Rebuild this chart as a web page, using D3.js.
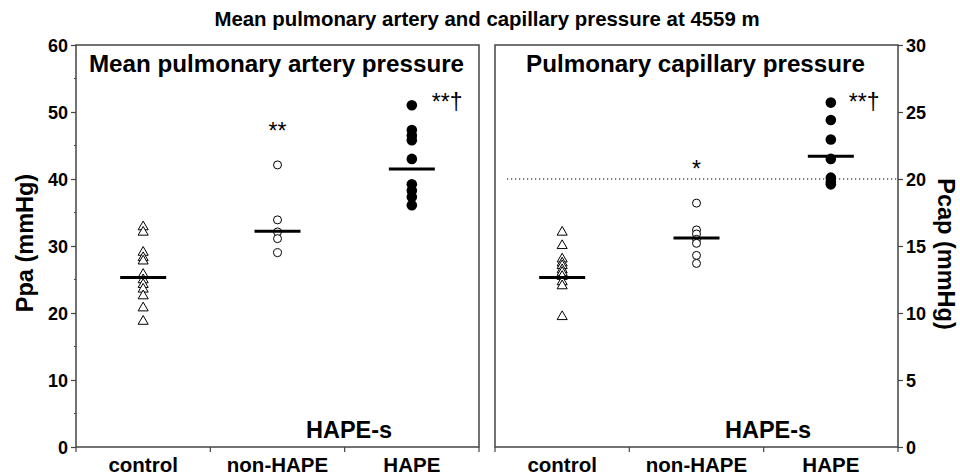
<!DOCTYPE html>
<html>
<head>
<meta charset="utf-8">
<script src="https://cdn.jsdelivr.net/npm/d3@7"></script>
<style>
  body { margin: 0; background: #fff; }
  svg text { font-family: "Liberation Sans", Arial, sans-serif; fill: #000; }
</style>
</head>
<body>
<div id="chart"></div>
<script>
// groups along the x axis
const groups = ["control", "non-HAPE", "HAPE"];

// mean pulmonary artery pressure (mmHg)
const ppaControl = [33, 32.2, 29.2, 28.4, 27.9, 25.9, 25.1, 24.4, 23.7, 22.7, 20.9, 18.9];
const ppaNonHape = [42.1, 33.9, 32.1, 31.1, 29.0];
const ppaHape = [51.0, 47.3, 46.5, 45.8, 43.0, 39.2, 38.3, 37.3, 36.1];
const ppaMeans = [25.3, 32.2, 41.5];
const ppaTicks = [0, 10, 20, 30, 40, 50, 60];

// pulmonary capillary pressure (mmHg)
const pcapControl = [16.1, 15.1, 14.1, 13.8, 13.6, 13.3, 13.1, 12.8, 12.4, 12.1, 9.8];
const pcapNonHape = [18.2, 16.2, 15.9, 15.5, 15.2, 14.3, 13.7];
const pcapHape = [25.7, 24.4, 22.95, 21.5, 20.1, 19.8, 19.6];
const pcapMeans = [12.65, 15.6, 21.7];
const pcapTicks = [0, 5, 10, 15, 20, 25, 30];
const pcapThreshold = 20;

const width = 960, height = 475;
const plotTop = 45, plotBottom = 447;
const axisColor = "#444";

const svg = d3.select("#chart").append("svg")
    .attr("width", width)
    .attr("height", height);

svg.append("text")
    .attr("x", 487)
    .attr("y", 26)
    .attr("text-anchor", "middle")
    .style("font-size", "20.4px")
    .style("font-weight", "bold")
    .text("Mean pulmonary artery and capillary pressure at 4559 m");

function drawPanel(opts) {
    let x = d3.scaleBand().domain(groups).range([opts.left, opts.right]);
    let y = d3.scaleLinear().domain([0, opts.max]).range([plotBottom, plotTop]);
    let g = svg.append("g");

    // frame
    g.append("rect")
        .attr("x", opts.left)
        .attr("y", plotTop)
        .attr("width", opts.right - opts.left)
        .attr("height", plotBottom - plotTop)
        .style("fill", "none")
        .style("stroke", axisColor)
        .style("stroke-width", 1.5);

    // x ticks at band edges
    let edges = groups.map(d => x(d)).concat([opts.right]);
    g.selectAll(".xt").data(edges).enter().append("line")
        .attr("x1", d => d).attr("x2", d => d)
        .attr("y1", plotBottom).attr("y2", plotBottom + 5)
        .style("stroke", axisColor).style("stroke-width", 1.2);

    g.selectAll(".xl").data(groups).enter().append("text")
        .attr("x", d => x(d) + x.bandwidth() / 2)
        .attr("y", 472)
        .attr("text-anchor", "middle")
        .style("font-size", "20.5px")
        .style("font-weight", "bold")
        .text(d => d);

    // y axis
    let ax = opts.side === "left"
        ? d3.axisLeft(y).tickValues(opts.ticks).tickSize(5).tickSizeOuter(0)
        : d3.axisRight(y).tickValues(opts.ticks).tickSize(5).tickSizeOuter(0);
    let axG = g.append("g")
        .attr("transform", "translate(" + (opts.side === "left" ? opts.left : opts.right) + ",0)")
        .call(ax);
    axG.select(".domain").remove();
    axG.selectAll("line").style("stroke", axisColor).style("stroke-width", 1.2);
    axG.selectAll("text")
        .style("font-size", "18px")
        .style("font-weight", "bold")
        .attr("dy", "0.36em");
    if (opts.minor) {
        let minor = d3.range(0, opts.ticks.length - 1).map(i => (opts.ticks[i] + opts.ticks[i + 1]) / 2);
        g.selectAll(".mt").data(minor).enter().append("line")
            .attr("x1", opts.left - 2).attr("x2", opts.left)
            .attr("y1", d => y(d)).attr("y2", d => y(d))
            .style("stroke", axisColor).style("stroke-width", 1.2);
    }

    // axis title
    let tx = opts.side === "left" ? 25 : 946;
    let ty = opts.side === "left" ? 243 : 254;
    g.append("text")
        .attr("transform", "translate(" + tx + "," + ty + ") rotate(" + (opts.side === "left" ? -90 : 90) + ")")
        .attr("text-anchor", "middle")
        .attr("dy", "0.35em")
        .style("font-size", "23.5px")
        .style("font-weight", "bold")
        .text(opts.axisTitle);

    // panel title
    g.append("text")
        .attr("x", (opts.left + opts.right) / 2 - 1)
        .attr("y", 72)
        .attr("text-anchor", "middle")
        .style("font-size", "24.2px")
        .style("font-weight", "bold")
        .text(opts.title);

    g.append("text")
        .attr("x", opts.left + 230)
        .attr("y", 438)
        .style("font-size", "23.5px")
        .style("font-weight", "bold")
        .text("HAPE-s");

    // threshold line
    if (opts.threshold !== undefined) {
        g.append("line")
            .attr("x1", opts.left + 12).attr("x2", opts.right)
            .attr("y1", y(opts.threshold)).attr("y2", y(opts.threshold))
            .style("stroke", "#000")
            .style("stroke-width", 1.2)
            .style("stroke-dasharray", "1.2,2.8");
    }

    let cx = d => x(d) + x.bandwidth() / 2;

    // control: open triangles
    let tri = d3.symbol().type(d3.symbolTriangle).size(44);
    g.selectAll(".tri").data(opts.data[0]).enter().append("path")
        .attr("d", tri)
        .attr("transform", d => "translate(" + cx(groups[0]) + "," + (y(d) + 1) + ")")
        .style("fill", "#fff")
        .style("stroke", "#000")
        .style("stroke-width", 1);

    // non-HAPE: open circles
    g.selectAll(".oc").data(opts.data[1]).enter().append("circle")
        .attr("cx", cx(groups[1]))
        .attr("cy", d => y(d))
        .attr("r", 4)
        .style("fill", "#fff")
        .style("stroke", "#000")
        .style("stroke-width", 1);

    // HAPE: filled circles
    g.selectAll(".fc").data(opts.data[2]).enter().append("circle")
        .attr("cx", cx(groups[2]))
        .attr("cy", d => y(d))
        .attr("r", 5.3)
        .style("fill", "#000");

    // mean bars
    g.selectAll(".mean").data(opts.means).enter().append("line")
        .attr("x1", (d, i) => cx(groups[i]) - 23)
        .attr("x2", (d, i) => cx(groups[i]) + 23)
        .attr("y1", d => y(d)).attr("y2", d => y(d))
        .style("stroke", "#000")
        .style("stroke-width", 3);

    // significance marks
    g.selectAll(".sig").data(opts.marks).enter().append("text")
        .attr("x", d => d.dx === undefined ? cx(groups[d.group]) : cx(groups[d.group]) + d.dx)
        .attr("y", d => d.y)
        .attr("text-anchor", d => d.dx === undefined ? "middle" : "start")
        .style("font-size", "23px")
        .text(d => d.text);
}

drawPanel({
    left: 76, right: 479, max: 60, ticks: ppaTicks, side: "left", minor: true,
    axisTitle: "Ppa (mmHg)", title: "Mean pulmonary artery pressure",
    data: [ppaControl, ppaNonHape, ppaHape], means: ppaMeans,
    marks: [{group: 1, text: "**", y: 139}, {group: 2, text: "**\u2020", y: 110, dx: 20}]
});

drawPanel({
    left: 495, right: 898, max: 30, ticks: pcapTicks, side: "right", minor: false,
    axisTitle: "Pcap (mmHg)", title: "Pulmonary capillary pressure",
    data: [pcapControl, pcapNonHape, pcapHape], means: pcapMeans,
    threshold: pcapThreshold,
    marks: [{group: 1, text: "*", y: 177}, {group: 2, text: "**\u2020", y: 110, dx: 18}]
});
</script>
</body>
</html>
